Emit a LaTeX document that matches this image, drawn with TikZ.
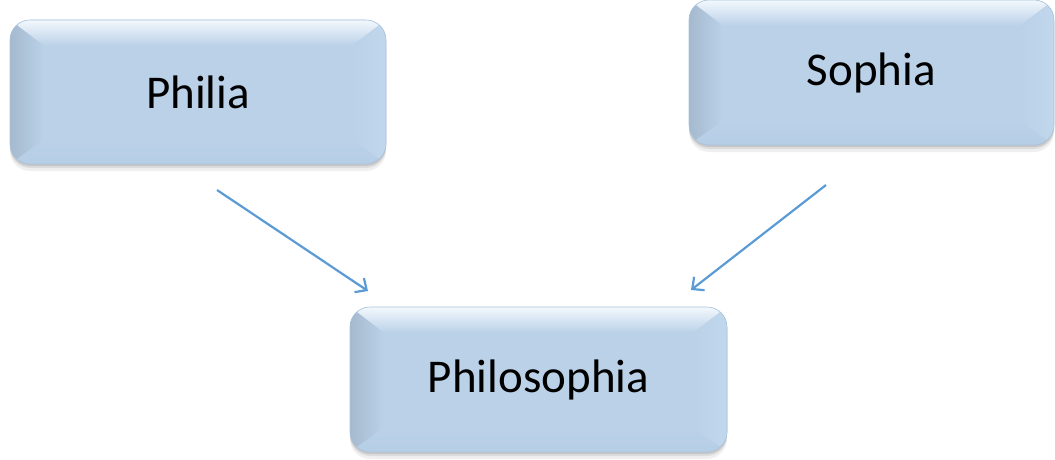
\documentclass[tikz,border=0pt]{standalone}
\usepackage{fontspec}
\setmainfont{Carlito}
\usetikzlibrary{arrows.meta,shadows}
\definecolor{face}{HTML}{BAD1E8}
\definecolor{topband}{HTML}{D6E7F6}
\definecolor{leftband}{HTML}{B2CAE2}
\definecolor{rightband}{HTML}{C0D7EC}
\definecolor{botband}{HTML}{B6CEE6}
\definecolor{edgec}{HTML}{A9C3DD}
\definecolor{arrowc}{HTML}{5B9BD5}
\newcommand{\boxtext}[1]{\raisebox{-3pt}{#1}}
\tikzset{
  bevelbox/.style={
    rounded corners=20pt, fill=face, draw=edgec, line width=0.6pt,
    inner sep=0pt, font=\fontsize{47}{56}\selectfont, text=black,
    general shadow={fill=black, opacity=0.06, shadow yshift=-7pt},
    general shadow={fill=black, opacity=0.08, shadow yshift=-4pt},
    general shadow={fill=black, opacity=0.10, shadow yshift=-2pt},
    path picture={
      \coordinate (nw) at (path picture bounding box.north west);
      \coordinate (se) at (path picture bounding box.south east);
      \coordinate (ne) at (path picture bounding box.north east);
      \coordinate (sw) at (path picture bounding box.south west);
      \fill[sharp corners, top color=white!70!topband, bottom color=face] (nw) -- (ne) -- ([xshift=-34pt,yshift=-26pt]ne) -- ([xshift=34pt,yshift=-26pt]nw) -- cycle;
      \fill[sharp corners, left color=leftband!90!black!95, right color=face] (nw) -- ([xshift=34pt,yshift=-26pt]nw) -- ([xshift=34pt,yshift=24pt]sw) -- (sw) -- cycle;
      \fill[sharp corners, right color=rightband, left color=face] (ne) -- ([xshift=-34pt,yshift=-26pt]ne) -- ([xshift=-34pt,yshift=24pt]se) -- (se) -- cycle;
      \fill[sharp corners, bottom color=botband, top color=face] (sw) -- ([xshift=34pt,yshift=24pt]sw) -- ([xshift=-34pt,yshift=24pt]se) -- (se) -- cycle;
    }
  },
  link/.style={draw=arrowc, line width=2.2pt, -{Straight Barb[length=9pt,width=17pt]}}
}
\begin{document}
\begin{tikzpicture}[x=1pt,y=-1pt]
\useasboundingbox (0,0) rectangle (1055,460);
\node[bevelbox, minimum width=376pt, minimum height=144pt] (philia) at (198,92) {\boxtext{Philia}};
\node[bevelbox, minimum width=365pt, minimum height=145pt] (sophia) at (871.5,72.5) {\boxtext{Sophia}};
\node[bevelbox, minimum width=377pt, minimum height=145pt] (philo) at (538.5,379.5) {\boxtext{Philosophia}};
\coordinate (a1s) at (217,190);
\coordinate (a1e) at (368,291);
\coordinate (a2s) at (826,185);
\coordinate (a2e) at (691,290);
\draw[link] (a1s) -- (a1e);
\draw[link] (a2s) -- (a2e);
\end{tikzpicture}
\end{document}
